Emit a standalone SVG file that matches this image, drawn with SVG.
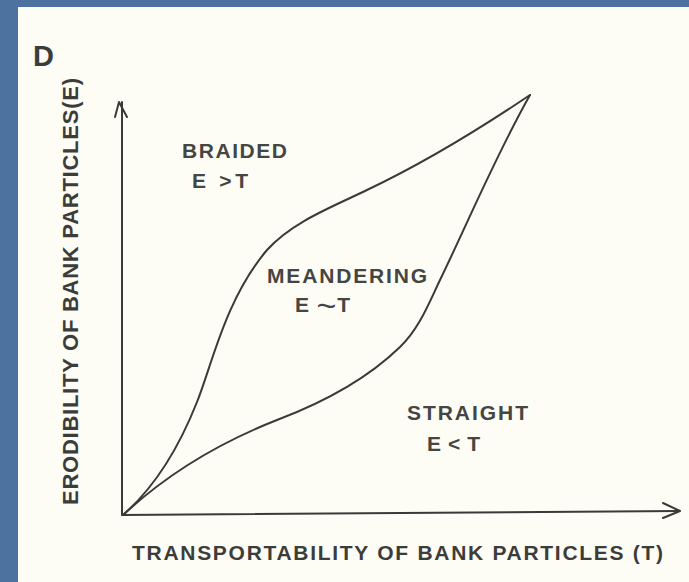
<svg xmlns="http://www.w3.org/2000/svg" width="689" height="582" viewBox="0 0 689 582">
<style>
.ln{fill:none;stroke:#3a3a38;stroke-width:2;stroke-linecap:round;stroke-linejoin:round}
.ax{font-family:"Liberation Sans",Arial,sans-serif;font-weight:bold;fill:#3c3c3a}
.rg{font-family:"Liberation Sans",Arial,sans-serif;font-weight:bold;fill:#454543;font-size:21px}
</style>
<rect x="0" y="0" width="689" height="582" fill="#4d72a0"/>
<rect x="18" y="7" width="671" height="575" fill="#fdfdf6"/>
<g id="panel-label"><text class="ax" x="33" y="66" font-size="29">D</text></g>
<g id="axes">
<path class="ln" d="M122,515 L122,102"/>
<path class="ln" d="M115,117 L119,102 L127,117"/>
<path class="ln" d="M122,515 L679,511"/>
<path class="ln" d="M663,503 L680,511 L663,518"/>
</g>
<g id="connectors">
<path id="upper-curve" class="ln" d="M123,515 C155,487 180,445 197,402 C212,365 225,300 267,250 C292,222 332,207 367,190 C424,163 478,130 530,95"/>
<path id="lower-curve" class="ln" d="M123,515 C167,474 221,442 277,420 C322,403 365,381 400,347 C419,329 429,303 440,280 C470,218 496,155 530,95"/>
</g>
<g id="braided"><text class="rg" x="182" y="158" textLength="105" lengthAdjust="spacing">BRAIDED</text>
<text class="rg" x="192" y="188" textLength="56" lengthAdjust="spacing">E &gt;T</text></g>
<g id="meandering"><text class="rg" x="267" y="283" textLength="160" lengthAdjust="spacing">MEANDERING</text>
<text class="rg" x="295" y="312" textLength="55" lengthAdjust="spacing">E <tspan font-size="34" font-weight="normal" dy="5">~</tspan><tspan dy="-5">T</tspan></text></g>
<g id="straight"><text class="rg" x="407" y="420" textLength="121" lengthAdjust="spacing">STRAIGHT</text>
<text class="rg" x="427" y="451" textLength="53" lengthAdjust="spacing">E&lt;T</text></g>
<g id="y-label"><text class="ax" font-size="22" transform="translate(78,505) rotate(-90)" x="0" y="0" textLength="427" lengthAdjust="spacing">ERODIBILITY OF BANK PARTICLES(E)</text></g>
<g id="x-label"><text class="ax" font-size="21" x="132" y="560" textLength="531" lengthAdjust="spacing">TRANSPORTABILITY OF BANK PARTICLES (T)</text></g>
</svg>
